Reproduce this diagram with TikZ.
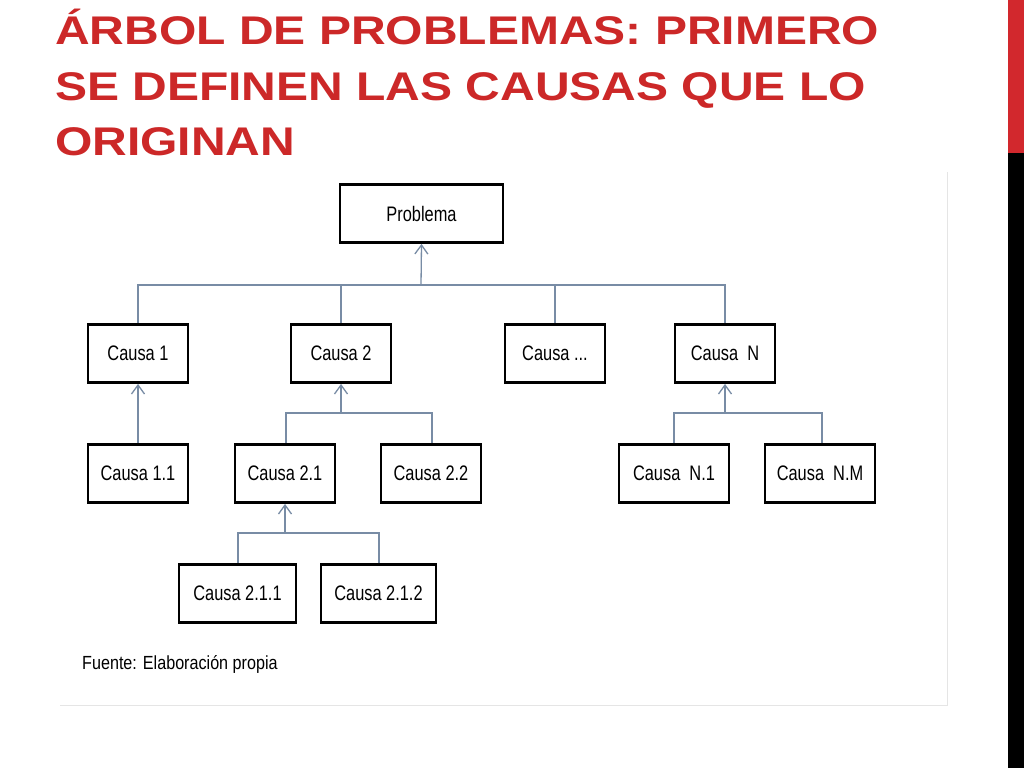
\documentclass[tikz,border=0pt]{standalone}
\usepackage{fontspec}
\setmainfont{Liberation Sans}
\usetikzlibrary{arrows.meta}
\definecolor{tred}{RGB}{204,40,40}
\definecolor{bar}{RGB}{210,40,45}
\definecolor{ln}{RGB}{120,140,165}
\begin{document}
\begin{tikzpicture}[x=1pt,y=-1pt,
  bx/.style={draw=black,line width=2.8pt,minimum height=58pt,inner sep=0pt,font=\fontsize{21}{22}\selectfont},
  tt/.style={anchor=base west,text=tred,font=\bfseries\fontsize{40}{55}\selectfont,inner sep=0pt},
  cn/.style={draw=ln,line width=1.3pt},
  ar/.style={cn,-{Straight Barb[length=9pt,width=13pt]}}]
\useasboundingbox (0,0) rectangle (1024,768);
\fill[white] (0,0) rectangle (1024,768);
\fill[bar] (1008,0) rectangle (1024,153);
\fill[black] (1008,153) rectangle (1024,768);
\draw[black!10,line width=0.8pt] (947,172) -- (947,705) -- (60,705);
\node[tt] (t1) at (55,45) {\scalebox{1.2}[1]{ÁRBOL DE PROBLEMAS: PRIMERO}};
\node[tt] (t2) at (55,100) {\scalebox{1.2}[1]{SE DEFINEN LAS CAUSAS QUE LO}};
\node[tt] (t3) at (55,155) {\scalebox{1.2}[1]{ORIGINAN}};
\def\B#1#2#3#4#5#6{\node[bx,minimum width=#4pt-#2pt-2pt] (#1) at ({(#2+#4)/2},{(#3+#5)/2}) {\scalebox{0.78}[1]{#6}};}
\B{p}{339}{183}{504}{244}{Problema}
\B{c1}{87}{323}{189}{384}{Causa 1}
\B{c2}{290}{323}{392}{384}{Causa 2}
\B{cx}{504}{323}{606}{384}{Causa ...}
\B{cn}{674}{323}{776}{384}{Causa\ \ N}
\B{c11}{87}{443}{189}{504}{Causa 1.1}
\B{c21}{234}{443}{336}{504}{Causa 2.1}
\B{c22}{380}{443}{482}{504}{Causa 2.2}
\B{cn1}{618}{443}{730}{504}{Causa\ \ N.1}
\B{cnm}{764}{443}{876}{504}{Causa\ \ N.M}
\B{c211}{178}{563}{297}{624}{Causa 2.1.1}
\B{c212}{320}{563}{437}{624}{Causa 2.1.2}
\coordinate (b1) at (421,285);
\draw[cn] (c1.north) |- (b1);
\draw[cn] (cn.north) |- (b1);
\draw[cn] (c2.north) -- (c2.north|-b1);
\draw[cn] (cx.north) -- (cx.north|-b1);
\draw[ar] (b1) -- (p.south);
\draw[ar] (c11.north) -- (c1.south);
\coordinate (b2) at (341,413);
\draw[cn] (c21.north -| 286,0) |- (b2);
\draw[cn] (c22.north -| 432,0) |- (b2);
\draw[ar] (b2) -- (c2.south);
\coordinate (bn) at (725,413);
\draw[cn] (cn1.north -| 674,0) |- (bn);
\draw[cn] (cnm.north -| 822,0) |- (bn);
\draw[ar] (bn) -- (cn.south);
\coordinate (b3) at (285,533);
\draw[cn] (c211.north -| 238,0) |- (b3);
\draw[cn] (c212.north -| 379,0) |- (b3);
\draw[ar] (b3) -- (c21.south);
\node[anchor=base west,inner sep=0pt,font=\fontsize{19}{20}\selectfont] (f) at (82,669) {\scalebox{0.85}[1]{Fuente: Elaboración propia}};
\end{tikzpicture}
\end{document}
